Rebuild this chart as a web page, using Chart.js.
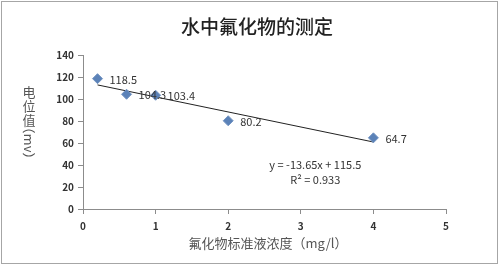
<!DOCTYPE html>
<html>
<head>
<meta charset="utf-8">
<script src="https://cdn.jsdelivr.net/npm/chart.js@4.4.1/dist/chart.umd.min.js"></script>
<style>
  html, body { margin: 0; padding: 0; background: #fff; }
  #wrap { width: 500px; height: 266px; }
</style>
</head>
<body>
<div id="wrap"><canvas id="chart" width="500" height="266"></canvas></div>
<script>
// 浓度 (mg/l) 与 电位值 (mv)
const concX = [0.2, 0.6, 1, 2, 4];
const potentialY = [118.5, 104.3, 103.4, 80.2, 64.7];
// 趋势线两端
const trendX = [0.2, 4];
const trendY = [112.8, 60.9];
const equationLines = ['y = -13.65x + 115.5', 'R² = 0.933'];

const FONT = "'Noto Sans CJK SC', 'Noto Sans', sans-serif";

const frame = {
  id: 'frame',
  beforeDraw(chart) {
    const c = chart.ctx;
    c.save();
    c.fillStyle = '#fff';
    c.fillRect(0, 0, chart.width, chart.height);
    c.strokeStyle = '#a6a6a6';
    c.lineWidth = 1;
    c.strokeRect(1.5, 1.5, 496, 262);
    c.restore();
  },
  afterDraw(chart) {
    const c = chart.ctx;
    c.save();
    // 标题
    c.fillStyle = '#222';
    c.font = '500 19px ' + FONT;
    c.textAlign = 'center';
    c.textBaseline = 'middle';
    c.fillText('水中氟化物的测定', 257, 27);
    // x 轴标题
    c.fillStyle = '#555';
    c.font = '13px ' + FONT;
    c.fillText('氟化物标准液浓度（mg/l）', 268, 243);
    // y 轴标题：竖排
    c.font = '13px ' + FONT;
    ['电', '位', '值'].forEach((ch, i) => c.fillText(ch, 29, 92 + i * 14));
    c.translate(29, 143);
    c.rotate(Math.PI / 2);
    c.fillText('（mv）', 0, 0);
    c.restore();

    // 数据标签
    const meta = chart.getDatasetMeta(0);
    c.save();
    c.fillStyle = '#333';
    c.font = '11px ' + FONT;
    c.textAlign = 'left';
    c.textBaseline = 'middle';
    meta.data.forEach((pt, i) => {
      c.fillText(String(potentialY[i]), pt.x + 12, pt.y + 1);
    });
    // 公式
    c.textAlign = 'center';
    const xs = chart.scales.x;
    const ex = xs.getPixelForValue(3.2);
    c.fillText(equationLines[0], ex, 165);
    c.fillText(equationLines[1], ex, 180);
    c.restore();
  }
};

new Chart(document.getElementById('chart'), {
  type: 'scatter',
  data: {
    datasets: [
      {
        label: '电位值',
        data: concX.map((x, i) => ({ x, y: potentialY[i] })),
        pointStyle: 'rectRot',
        radius: 5,
        hoverRadius: 5,
        backgroundColor: '#5b82b8',
        borderColor: '#7495c3',
        borderWidth: 1
      },
      {
        label: '趋势线',
        type: 'line',
        data: trendX.map((x, i) => ({ x, y: trendY[i] })),
        borderColor: '#222',
        borderWidth: 1,
        pointRadius: 0,
        fill: false
      }
    ]
  },
  options: {
    responsive: false,
    animation: false,
    layout: { padding: { left: 0, right: 54, top: 55, bottom: 0 } },
    plugins: {
      legend: { display: false },
      title: { display: false },
      tooltip: { enabled: false }
    },
    scales: {
      x: {
        type: 'linear',
        min: 0,
        max: 5,
        ticks: { stepSize: 1, color: '#333', padding: 6, font: { family: FONT, size: 10, weight: 'bold' } },
        grid: { drawOnChartArea: false, tickLength: 5, color: '#8c8c8c' },
        border: { color: '#8c8c8c' },
        afterFit(s) { s.height = 57; }
      },
      y: {
        min: 0,
        max: 140,
        ticks: { stepSize: 20, color: '#333', padding: 4, font: { family: FONT, size: 10, weight: 'bold' } },
        grid: { drawOnChartArea: false, tickLength: 5, color: '#8c8c8c' },
        border: { color: '#8c8c8c' },
        afterFit(s) { s.width = 83; }
      }
    }
  },
  plugins: [frame]
});
</script>
</body>
</html>
